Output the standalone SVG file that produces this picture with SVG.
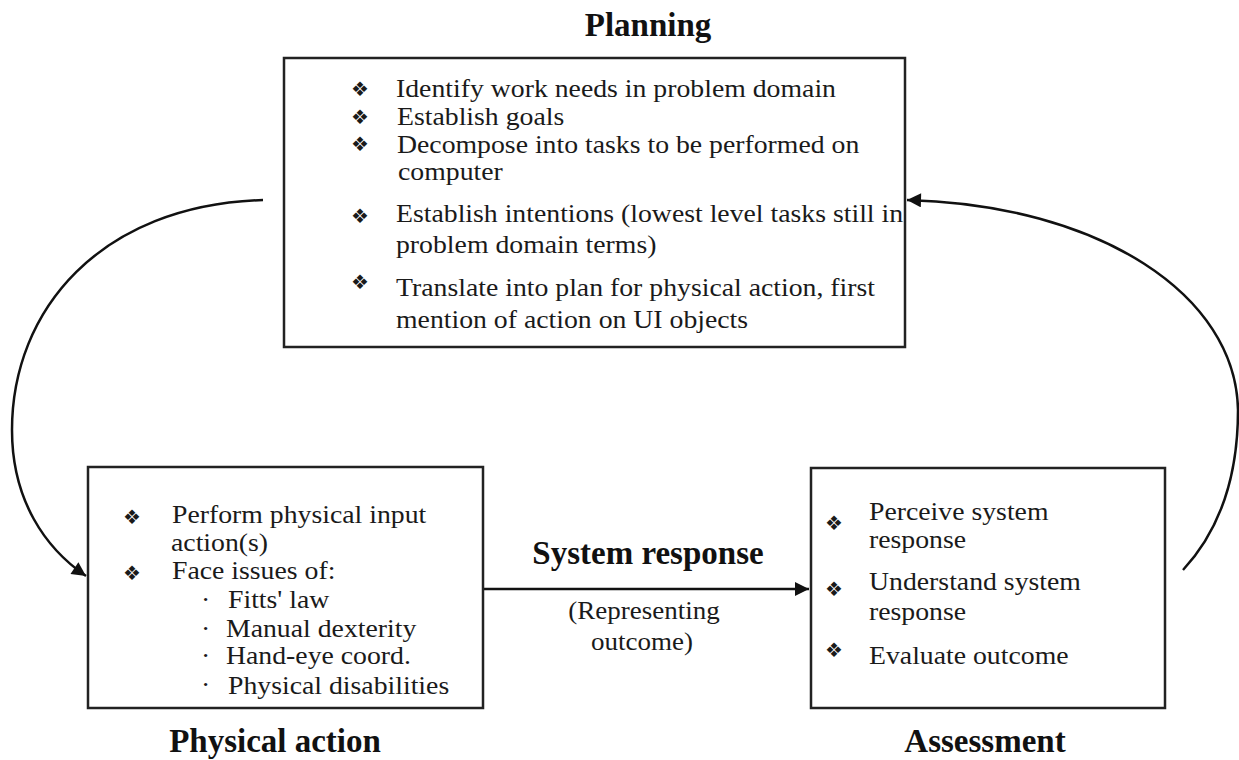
<svg xmlns="http://www.w3.org/2000/svg" width="1239" height="760" viewBox="0 0 1239 760">
<style>
.box{fill:#fff;stroke:#222;stroke-width:2.5}
.t{font-family:"Liberation Serif","Times New Roman",serif;font-size:25px;fill:#1a1a1a}
.h{font-family:"Liberation Serif","Times New Roman",serif;font-size:33px;font-weight:bold;fill:#111}
.b{font-family:"DejaVu Sans",sans-serif;font-size:20px;fill:#1a1a1a;text-anchor:middle}
.c{fill:none;stroke:#111;stroke-width:2.5}
</style>
<defs>
<marker id="ah" viewBox="0 0 10 10" refX="10" refY="5" markerWidth="25" markerHeight="14" markerUnits="userSpaceOnUse" orient="auto">
<path d="M0,0 L10,5 L0,10 z" fill="#111"/>
</marker>
</defs>
<rect width="1239" height="760" fill="#fff"/>
<g id="connectors">
<path class="c" d="M263,200 C100,205 12,310 12,430 C12,500 45,548 86,576" marker-end="url(#ah)"/>
<path class="c" d="M1183,570 C1220,530 1238,475 1238,410 C1236,295 1100,205 907,200" marker-end="url(#ah)"/>
<line class="c" x1="484" y1="589" x2="809" y2="589" marker-end="url(#ah)"/>
</g>
<g id="planning">
<rect class="box" x="284" y="58" width="621" height="289"/>
<text class="h" x="648" y="36" text-anchor="middle">Planning</text>
<text class="b" x="360" y="96">❖</text>
<text class="t" transform="translate(396,97) scale(1.11,1)">Identify work needs in problem domain</text>
<text class="b" x="360" y="124">❖</text>
<text class="t" transform="translate(397,125) scale(1.11,1)">Establish goals</text>
<text class="b" x="360" y="151">❖</text>
<text class="t" transform="translate(397,153) scale(1.11,1)">Decompose into tasks to be performed on</text>
<text class="t" transform="translate(398,180) scale(1.11,1)">computer</text>
<text class="b" x="360" y="223">❖</text>
<text class="t" transform="translate(396,222) scale(1.11,1)">Establish intentions (lowest level tasks still in</text>
<text class="t" transform="translate(396,253) scale(1.11,1)">problem domain terms)</text>
<text class="b" x="360" y="289">❖</text>
<text class="t" transform="translate(396,296) scale(1.11,1)">Translate into plan for physical action, first</text>
<text class="t" transform="translate(396,328) scale(1.11,1)">mention of action on UI objects</text>
</g>
<g id="physical-action">
<rect class="box" x="88" y="467" width="395" height="241"/>
<text class="b" x="132" y="524">❖</text>
<text class="t" transform="translate(172,523) scale(1.11,1)">Perform physical input</text>
<text class="t" transform="translate(171,551) scale(1.11,1)">action(s)</text>
<text class="b" x="132" y="580">❖</text>
<text class="t" transform="translate(172,579) scale(1.11,1)">Face issues of:</text>
<text class="t" transform="translate(201,608) scale(1.11,1)">·</text>
<text class="t" transform="translate(228,608) scale(1.11,1)">Fitts' law</text>
<text class="t" transform="translate(201,637) scale(1.11,1)">·</text>
<text class="t" transform="translate(226,637) scale(1.11,1)">Manual dexterity</text>
<text class="t" transform="translate(201,664) scale(1.11,1)">·</text>
<text class="t" transform="translate(226,664) scale(1.11,1)">Hand-eye coord.</text>
<text class="t" transform="translate(201,693) scale(1.11,1)">·</text>
<text class="t" transform="translate(228,694) scale(1.11,1)">Physical disabilities</text>
<text class="h" x="275" y="752" text-anchor="middle">Physical action</text>
</g>
<g id="system-response">
<text class="h" x="648" y="564" text-anchor="middle">System response</text>
<text class="t" text-anchor="middle" transform="translate(644,619) scale(1.08,1)">(Representing</text>
<text class="t" text-anchor="middle" transform="translate(642,650) scale(1.08,1)">outcome)</text>
</g>
<g id="assessment">
<rect class="box" x="811" y="468" width="354" height="240"/>
<text class="b" x="834" y="530">❖</text>
<text class="t" transform="translate(869,520) scale(1.11,1)">Perceive system</text>
<text class="t" transform="translate(869,548) scale(1.11,1)">response</text>
<text class="b" x="834" y="596">❖</text>
<text class="t" transform="translate(869,590) scale(1.11,1)">Understand system</text>
<text class="t" transform="translate(869,620) scale(1.11,1)">response</text>
<text class="b" x="834" y="657">❖</text>
<text class="t" transform="translate(869,664) scale(1.11,1)">Evaluate outcome</text>
<text class="h" x="985" y="752" text-anchor="middle">Assessment</text>
</g>
</svg>
